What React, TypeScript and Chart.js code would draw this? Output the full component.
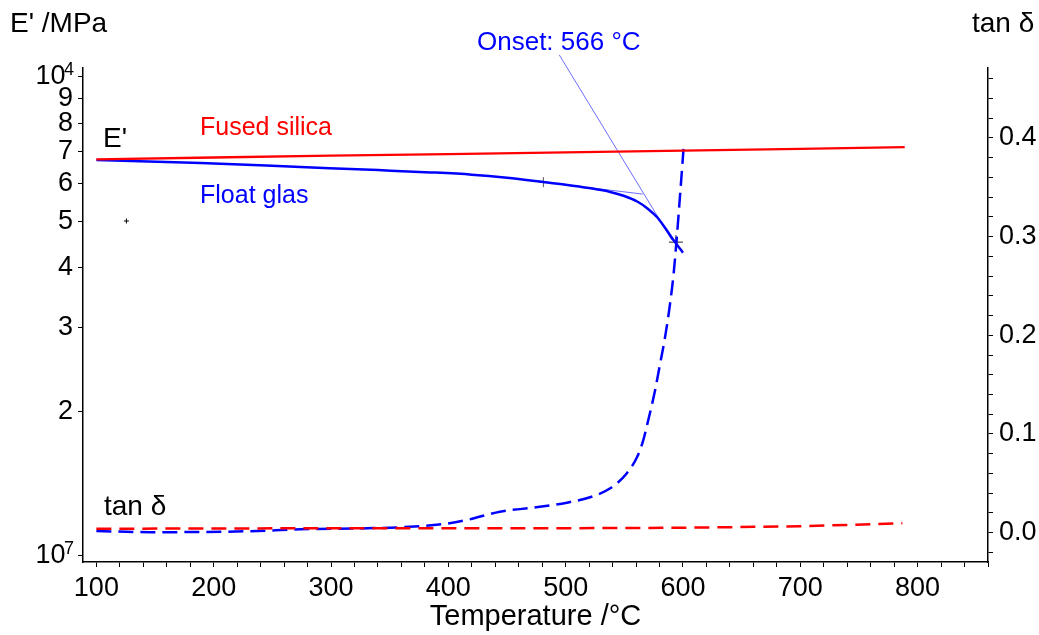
import React, { useEffect, useRef } from 'react';
import { Chart, registerables } from 'chart.js';

Chart.register(...registerables);

const FONT = '"Liberation Sans", Arial, Helvetica, sans-serif';

// ---- Data ----
// Storage modulus E' (MPa, log axis)
const silicaTemp = [100, 200, 300, 400, 500, 600, 700, 789];
const silicaModulus = [6730, 6790, 6850, 6900, 6960, 7020, 7080, 7140];

const floatTemp = [100, 189, 274, 340, 385, 420, 450, 481, 500, 520, 538, 550, 561, 570, 578, 585, 591.4, 596, 600];
const floatModulus = [6709, 6613, 6486, 6390, 6321, 6252, 6160, 6036, 5957, 5861, 5754, 5643, 5495, 5309, 5093, 4831, 4581, 4426, 4295];

// Loss factor tan δ (right axis)
const silicaTanTemp = [100, 300, 500, 600, 700, 787];
const silicaTanDelta = [0.004, 0.0045, 0.0045, 0.005, 0.0065, 0.0095];

const floatTanTemp = [100, 146, 189, 231, 274, 331, 359, 396, 416, 444, 472, 501, 524, 538, 552, 561, 566, 570, 576, 580, 585, 589, 592, 594.6, 597.4, 600.8];
const floatTanDelta = [0.0017, 0.0005, 0.0007, 0.0015, 0.0034, 0.0045, 0.0055, 0.0088, 0.0129, 0.0213, 0.0253, 0.0304, 0.0372, 0.045, 0.06, 0.077, 0.093, 0.112, 0.143, 0.168, 0.2, 0.232, 0.262, 0.297, 0.34, 0.394];

// Onset construction (tangents) and markers
const tangentFlatTemp = [505, 565.7];
const tangentFlatModulus = [5932, 5695];
const tangentSteepTemp = [494.6, 590.6];
const tangentSteepModulus = [11117, 4566];
const markerTemp = [481, 594];
const markerModulus = [6030, 4520];
const strayMarkerTemp = [125.6];
const strayMarkerModulus = [5003];

// ---- Axis ticks ----
const xTickValues: number[] = [];
for (let v = 100; v <= 860; v += 20) xTickValues.push(v);
const xLabelValues = [100, 200, 300, 400, 500, 600, 700, 800];

const eTickValues = [1000, 2000, 3000, 4000, 5000, 6000, 7000, 8000, 9000, 10000];
const eTickLabels = ['10 ', '2', '3', '4', '5', '6', '7', '8', '9', '10 '];
const eTickExponents: Record<number, string> = { 1000: '7', 10000: '4' };

const tanTickValues: number[] = [];
for (let i = -1; i <= 23; i++) tanTickValues.push(i / 50);

const pts = (xs: number[], ys: number[]) => xs.map((x, i) => ({ x, y: ys[i] }));

const textPlugin = {
  id: 'textLabels',
  afterDraw(chart: any) {
    const ctx = chart.ctx;
    ctx.save();
    ctx.textBaseline = 'alphabetic';
    ctx.textAlign = 'left';
    const put = (t: string, x: number, y: number, size: number, color: string) => {
      ctx.font = `${size}px ${FONT}`;
      ctx.fillStyle = color;
      ctx.fillText(t, x, y);
    };
    put("E' /MPa", 10, 32, 28, '#000');
    put('tan \u03b4', 972, 32, 28, '#000');
    put("E'", 103, 147, 28, '#000');
    put('tan \u03b4', 104, 515, 28, '#000');
    put('Fused silica', 200, 135, 25, '#ff0000');
    put('Float glas', 200, 203, 25, '#0000ff');
    put('Onset: 566 \u00b0C', 477, 50, 26, '#0000ff');
    // exponents of the decade labels on the E' axis
    const yE = chart.scales.yE;
    Object.keys(eTickExponents).forEach((k) => {
      const v = Number(k);
      const py = yE.getPixelForValue(v);
      put(eTickExponents[v], 64, py - 2, 18, '#000');
    });
    ctx.restore();
  },
};

export default function App() {
  const ref = useRef<HTMLCanvasElement | null>(null);

  useEffect(() => {
    if (!ref.current) return;
    const tickFont = { family: FONT, size: 27 };
    const chart = new Chart(ref.current, {
      type: 'line',
      data: {
        datasets: [
          {
            label: "Fused silica E'",
            data: pts(silicaTemp, silicaModulus),
            yAxisID: 'yE',
            borderColor: '#ff0000',
            borderWidth: 2.3,
            pointRadius: 0,
            tension: 0,
          },
          {
            label: "Float glas E'",
            data: pts(floatTemp, floatModulus),
            yAxisID: 'yE',
            borderColor: '#0000ff',
            borderWidth: 2.5,
            pointRadius: 0,
            cubicInterpolationMode: 'monotone',
          },
          {
            label: 'Fused silica tan',
            data: pts(silicaTanTemp, silicaTanDelta),
            yAxisID: 'yT',
            borderColor: '#ff0000',
            borderWidth: 2.5,
            borderDash: [15, 8],
            pointRadius: 0,
            tension: 0,
          },
          {
            label: 'Float glas tan',
            data: pts(floatTanTemp, floatTanDelta),
            yAxisID: 'yT',
            borderColor: '#0000ff',
            borderWidth: 2.5,
            borderDash: [15, 7],
            pointRadius: 0,
            cubicInterpolationMode: 'monotone',
          },
          {
            label: 'tangent flat',
            data: pts(tangentFlatTemp, tangentFlatModulus),
            yAxisID: 'yE',
            borderColor: 'rgba(60,60,255,0.75)',
            borderWidth: 1,
            pointRadius: 0,
          },
          {
            label: 'tangent steep',
            data: pts(tangentSteepTemp, tangentSteepModulus),
            yAxisID: 'yE',
            borderColor: 'rgba(60,60,255,0.75)',
            borderWidth: 1,
            pointRadius: 0,
            clip: false,
          } as any,
          {
            label: 'markers',
            data: pts(markerTemp, markerModulus),
            yAxisID: 'yE',
            showLine: false,
            pointStyle: 'cross',
            pointRadius: [5, 7],
            pointBorderColor: ['#555', '#222'],
            pointBorderWidth: 1,
          } as any,
          {
            label: 'stray',
            data: pts(strayMarkerTemp, strayMarkerModulus),
            yAxisID: 'yE',
            showLine: false,
            pointStyle: 'cross',
            pointRadius: 2.5,
            pointBorderColor: '#000',
            pointBorderWidth: 1,
          } as any,
        ],
      },
      options: {
        animation: false,
        responsive: false,
        events: [],
        layout: { padding: { top: 68, left: 0, right: 0, bottom: 0 } },
        plugins: { legend: { display: false }, tooltip: { enabled: false } },
        scales: {
          x: {
            type: 'linear',
            position: 'bottom',
            min: 88.6,
            max: 860,
            afterBuildTicks: (a: any) => {
              a.ticks = xTickValues.map((v) => ({ value: v }));
            },
            afterFit: (s: any) => {
              s.height = 73;
            },
            ticks: {
              autoSkip: false,
              maxRotation: 0,
              padding: 5,
              color: '#000',
              font: tickFont,
              callback: (v: any) => {
                const n = Math.round(Number(v));
                return xLabelValues.includes(n) && Math.abs(Number(v) - n) < 1e-6 ? String(n) : '';
              },
            },
            grid: { drawOnChartArea: false, drawTicks: true, tickLength: 5, color: '#000', lineWidth: 1 },
            border: { display: true, color: '#000', width: 1.5 },
            title: {
              display: true,
              text: 'Temperature /\u00b0C',
              color: '#000',
              font: { family: FONT, size: 29 },
              padding: { top: 0, bottom: 1 },
            },
          },
          yE: {
            type: 'logarithmic',
            position: 'left',
            min: 970.6,
            max: 10442,
            afterBuildTicks: (a: any) => {
              a.ticks = eTickValues.map((v) => ({ value: v }));
            },
            afterFit: (s: any) => {
              s.width = 83;
            },
            ticks: {
              autoSkip: false,
              padding: 5,
              color: '#000',
              font: tickFont,
              callback: (v: any) => {
                const i = eTickValues.indexOf(Math.round(Number(v)));
                return i >= 0 ? eTickLabels[i] : '';
              },
            },
            grid: { drawOnChartArea: false, drawTicks: true, tickLength: 5, color: '#000', lineWidth: 1 },
            border: { display: true, color: '#000', width: 1.5 },
          },
          yT: {
            type: 'linear',
            position: 'right',
            min: -0.0297,
            max: 0.4708,
            afterBuildTicks: (a: any) => {
              a.ticks = tanTickValues.map((v) => ({ value: v }));
            },
            afterFit: (s: any) => {
              s.width = 51;
            },
            ticks: {
              autoSkip: false,
              padding: 6,
              color: '#000',
              font: tickFont,
              callback: (v: any) => {
                const r = Math.round(Number(v) * 50);
                return r % 5 === 0 ? (r / 50).toFixed(1) : '';
              },
            },
            grid: { drawOnChartArea: false, drawTicks: true, tickLength: 5, color: '#000', lineWidth: 1 },
            border: { display: true, color: '#000', width: 1.5 },
          },
        },
      } as any,
      plugins: [textPlugin],
    });
    return () => chart.destroy();
  }, []);

  return (
    <div style={{ position: 'fixed', left: 0, top: 0, width: 1039, height: 635, background: '#fff' }}>
      <canvas ref={ref} width={1039} height={635} style={{ display: 'block', width: 1039, height: 635 }} />
    </div>
  );
}
